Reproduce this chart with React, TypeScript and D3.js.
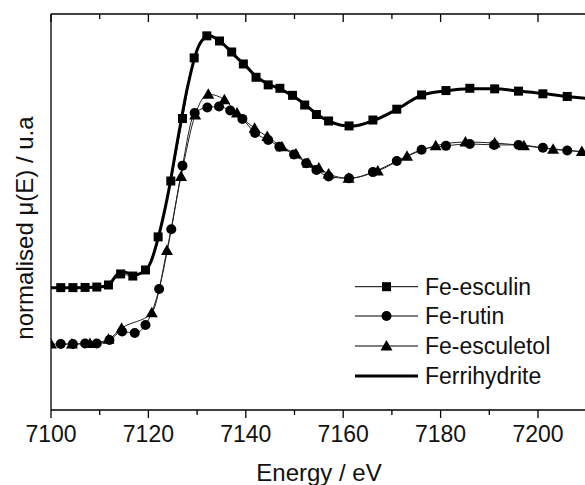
import React from "react";
import * as d3 from "d3";

// energies (eV) and normalised absorbance
const esculinE = [7102, 7104.5, 7107, 7109.4, 7111.8, 7114.3, 7116.8, 7119.4, 7122, 7124.6, 7127, 7129.4, 7132, 7134.6, 7137.1, 7139.5, 7142.1, 7144.6, 7147, 7149.6, 7152.1, 7154.5, 7157, 7161.2, 7166.1, 7171, 7176.1, 7181.1, 7186, 7191.1, 7196, 7201, 7206, 7211];
const esculinY = [0.286, 0.286, 0.287, 0.289, 0.3, 0.358, 0.347, 0.379, 0.553, 0.847, 1.176, 1.495, 1.611, 1.584, 1.526, 1.463, 1.393, 1.353, 1.335, 1.298, 1.247, 1.197, 1.163, 1.137, 1.168, 1.225, 1.3, 1.323, 1.335, 1.332, 1.32, 1.306, 1.292, 1.279];

const rutinE = [7102, 7104.5, 7107, 7109.4, 7112, 7114.6, 7117.2, 7119.4, 7122.2, 7124.7, 7127, 7129.5, 7132.1, 7134.5, 7136.8, 7139.3, 7141.9, 7144.6, 7146.9, 7149.9, 7152.4, 7154.5, 7157, 7161.2, 7166.1, 7171, 7176.1, 7181.1, 7186, 7191, 7196, 7201, 7206, 7211];
const rutinY = [-0.011, -0.011, -0.008, -0.008, 0.01, 0.055, 0.047, 0.089, 0.279, 0.593, 0.928, 1.205, 1.234, 1.239, 1.218, 1.174, 1.1, 1.063, 1.028, 0.987, 0.941, 0.905, 0.871, 0.861, 0.894, 0.952, 1.012, 1.032, 1.042, 1.037, 1.037, 1.022, 1.008, 0.997];

const esculetolE = [7100, 7104.3, 7108, 7111.8, 7114.5, 7120.7, 7123.8, 7126.7, 7129.6, 7132.3, 7135.6, 7138.2, 7141.8, 7144.4, 7147.4, 7150.3, 7152.8, 7155, 7157, 7161.1, 7167.1, 7173.1, 7179, 7185.1, 7191.1, 7197.1, 7203.1, 7209];
const esculetolY = [-0.011, -0.011, -0.008, 0.014, 0.072, 0.154, 0.482, 0.871, 1.195, 1.304, 1.275, 1.205, 1.125, 1.081, 1.028, 0.989, 0.941, 0.916, 0.884, 0.862, 0.9, 0.977, 1.033, 1.052, 1.047, 1.033, 1.014, 1.002];

const ferriE = [7100, 7105, 7110, 7112, 7113.5, 7115, 7117, 7119, 7120.5, 7122, 7124, 7126, 7128, 7130, 7131.5, 7132.5, 7134, 7136, 7138, 7140, 7142, 7144.5, 7147, 7150, 7152, 7154.5, 7157, 7160, 7162, 7166, 7171, 7176, 7181, 7186, 7191, 7196, 7201, 7206, 7211];
const ferriY = [0.286, 0.286, 0.289, 0.305, 0.353, 0.368, 0.353, 0.368, 0.421, 0.547, 0.774, 1.063, 1.337, 1.537, 1.6, 1.611, 1.595, 1.553, 1.5, 1.453, 1.4, 1.358, 1.332, 1.289, 1.253, 1.2, 1.163, 1.139, 1.137, 1.163, 1.224, 1.297, 1.321, 1.332, 1.332, 1.321, 1.308, 1.292, 1.279];

const majorTicks = [7100, 7120, 7140, 7160, 7180, 7200];
const minorTicks = [7110, 7130, 7150, 7170, 7190, 7210];
const legendLabels = ["Fe-esculin", "Fe-rutin", "Fe-esculetol", "Ferrihydrite"];

const W = 585;
const H = 485;
const left = 51;
const top = 14;
const bottom = 410;
const right = 586.7;
const font = "'Liberation Sans', Arial, sans-serif";

type Pt = [number, number];
const zip = (xs: number[], ys: number[]): Pt[] => xs.map((x, i) => [x, ys[i]]);

const Marker = ({ kind, x, y }: { kind: string; x: number; y: number }) => {
  if (kind === "square") return <rect x={x - 4.5} y={y - 4.5} width={9} height={9} fill="#000" />;
  if (kind === "circle") return <circle cx={x} cy={y} r={5} fill="#000" />;
  return <path d={`M${x},${y - 6}L${x + 6},${y + 4.5}L${x - 6},${y + 4.5}Z`} fill="#000" />;
};

export default function App() {
  const xScale = d3.scaleLinear().domain([7100, 7210]).range([left, right]);
  const yScale = d3.scaleLinear().domain([-0.358, 1.726]).range([bottom, top]);

  const thin = d3
    .line<Pt>()
    .x((d) => xScale(d[0]))
    .y((d) => yScale(d[1]))
    .curve(d3.curveMonotoneX);

  const series = [
    { data: zip(esculinE, esculinY), kind: "square" },
    { data: zip(rutinE, rutinY), kind: "circle" },
    { data: zip(esculetolE, esculetolY), kind: "triangle" },
  ];
  const ferri = zip(ferriE, ferriY);

  const legendX0 = 355;
  const legendX1 = 418;
  const legendRows = [286.7, 316, 346, 376];

  return (
    <svg width={W} height={H} style={{ position: "absolute", left: 0, top: 0, background: "#fff" }}>
      <defs>
        <clipPath id="plot">
          <rect x={left} y={top} width={right - left} height={bottom - top} />
        </clipPath>
      </defs>

      <g clipPath="url(#plot)">
        {series.map((s, i) => (
          <path key={i} d={thin(s.data) || ""} fill="none" stroke="#222" strokeWidth={1} />
        ))}
        <path d={thin(ferri) || ""} fill="none" stroke="#000" strokeWidth={3} />
        {series.map((s, i) =>
          s.data.map((d, j) => <Marker key={`${i}-${j}`} kind={s.kind} x={xScale(d[0])} y={yScale(d[1])} />)
        )}
      </g>

      {/* frame */}
      <line x1={left} x2={W} y1={top} y2={top} stroke="#000" strokeWidth={1.3} />
      <line x1={left} x2={W} y1={bottom} y2={bottom} stroke="#000" strokeWidth={1.3} />
      <line x1={left} x2={left} y1={top} y2={bottom} stroke="#000" strokeWidth={1.3} />

      {majorTicks.map((t) => (
        <g key={t}>
          <line x1={xScale(t)} x2={xScale(t)} y1={bottom} y2={bottom + 8} stroke="#000" strokeWidth={1.3} />
          <line x1={xScale(t)} x2={xScale(t)} y1={top} y2={top + 8} stroke="#000" strokeWidth={1.3} />
          <text x={xScale(t)} y={441.7} textAnchor="middle" fontFamily={font} fontSize={23} fill="#111">
            {t}
          </text>
        </g>
      ))}
      {minorTicks.map((t) => (
        <g key={t}>
          <line x1={xScale(t)} x2={xScale(t)} y1={bottom} y2={bottom + 5} stroke="#000" strokeWidth={1.3} />
          <line x1={xScale(t)} x2={xScale(t)} y1={top} y2={top + 5} stroke="#000" strokeWidth={1.3} />
        </g>
      ))}

      <text x={319} y={480.5} textAnchor="middle" fontFamily={font} fontSize={24} fill="#111">
        Energy / eV
      </text>
      <text
        transform="translate(32.5,228) rotate(-90)"
        textAnchor="middle"
        fontFamily={font}
        fontSize={24}
        fill="#111"
      >
        normalised μ(E) / u.a
      </text>

      {/* legend */}
      {legendLabels.map((label, i) => {
        const y = legendRows[i];
        const kinds = ["square", "circle", "triangle"];
        return (
          <g key={label}>
            <line x1={legendX0} x2={legendX1} y1={y} y2={y} stroke="#000" strokeWidth={i === 3 ? 3 : 1} />
            {i < 3 && <Marker kind={kinds[i]} x={(legendX0 + legendX1) / 2} y={y} />}
            <text x={425} y={y + 7.8} fontFamily={font} fontSize={23} fill="#111">
              {label}
            </text>
          </g>
        );
      })}
    </svg>
  );
}
